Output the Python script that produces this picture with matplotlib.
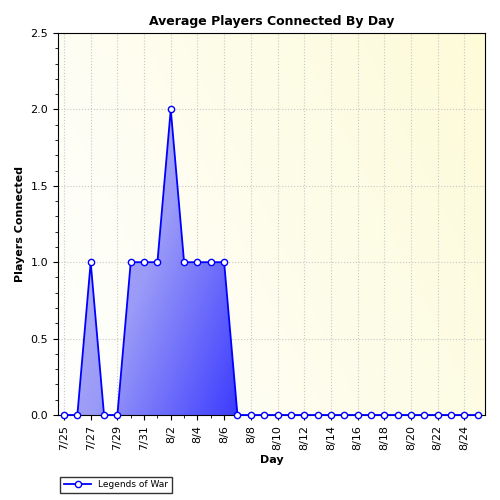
import numpy as np
import matplotlib.pyplot as plt
from matplotlib.colors import LinearSegmentedColormap

days = ['7/25', '7/26', '7/27', '7/28', '7/29', '7/30', '7/31', '8/1', '8/2', '8/3',
        '8/4', '8/5', '8/6', '8/7', '8/8', '8/9', '8/10', '8/11', '8/12', '8/13',
        '8/14', '8/15', '8/16', '8/17', '8/18', '8/19', '8/20', '8/21', '8/22', '8/23',
        '8/24', '8/25']
players = [0, 0, 1, 0, 0, 1, 1, 1, 2, 1, 1, 1, 1, 0, 0, 0, 0, 0, 0, 0,
           0, 0, 0, 0, 0, 0, 0, 0, 0, 0, 0, 0]

x = np.arange(len(days))
fig = plt.figure(figsize=(5, 5), dpi=100)
ax = fig.add_axes([0.116, 0.17, 0.854, 0.764])
xlim = (-0.45, len(days) - 0.45)
ylim = (0, 2.5)

# background gradient white -> light yellow
bg = LinearSegmentedColormap.from_list('bg', ['#ffffff', '#fdfbd8'])
gx, gy = np.meshgrid(np.linspace(0, 1, 200), np.linspace(0, 1, 200))
ax.imshow(gx * 0.7 + gy * 0.3, cmap=bg, extent=(*xlim, *ylim), aspect='auto',
          origin='lower', zorder=0)

# blue gradient area
fill = ax.fill_between(x, players, color='none', zorder=2)
fc = LinearSegmentedColormap.from_list('fc', ['#c0c0f6', '#9a9af8', '#3c3cff'])
im = ax.imshow(gx * 0.6 + (1 - gy) * 0.4, cmap=fc, extent=(0, 13, 0, 2.0),
               aspect='auto', origin='lower', zorder=2)
path = fill.get_paths()[0]
im.set_clip_path(path, transform=ax.transData)

ax.plot(x, players, color='#0000ff', lw=1.3, marker='o', ms=4.5,
        mfc='white', mec='#0000ff', mew=1, zorder=3, clip_on=False,
        label='Legends of War')

ax.set_xlim(xlim)
ax.set_ylim(ylim)
ax.set_xticks(x[::2])
ax.set_xticklabels(days[::2], rotation=90, fontsize=8)
ax.set_xticks(x, minor=True)
ax.set_yticks(np.arange(0, 2.6, 0.5))
ax.set_yticklabels(['%.1f' % v for v in np.arange(0, 2.6, 0.5)], fontsize=8)
ax.set_yticks(np.arange(0, 2.5, 0.1), minor=True)
ax.grid(True, which='major', color='#c8c8c8', linestyle=':', lw=0.8, zorder=1)
ax.set_axisbelow(True)
ax.set_title('Average Players Connected By Day', fontsize=9, fontweight='bold')
ax.set_xlabel('Day', fontsize=8, fontweight='bold')
ax.set_ylabel('Players Connected', fontsize=8, fontweight='bold')
ax.legend(loc='upper left', bbox_to_anchor=(-0.005, -0.15), fontsize=6.5,
          frameon=True, fancybox=False, edgecolor='black', handlelength=3)

fig.savefig('out.png', dpi=100)
